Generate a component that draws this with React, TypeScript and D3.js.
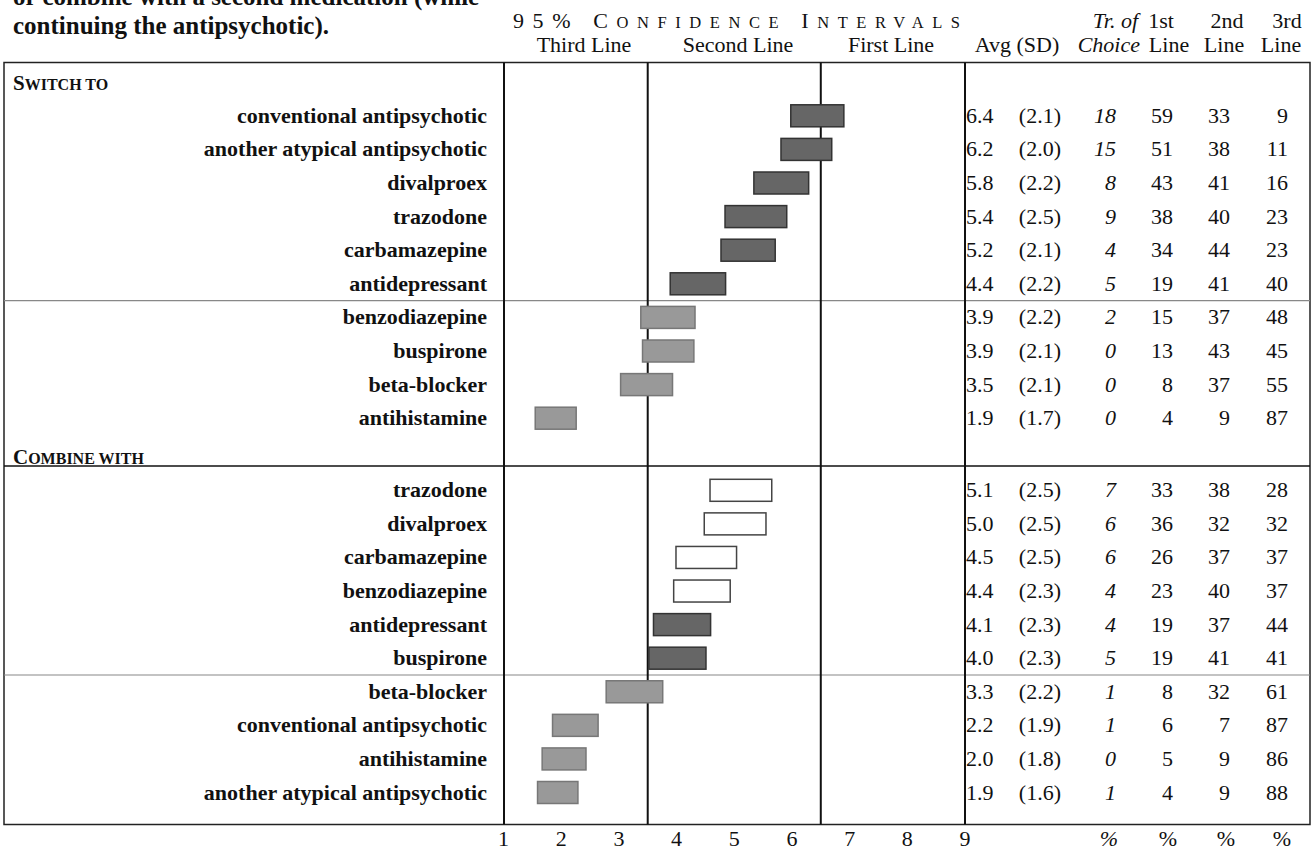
import React from 'react'
import {scaleLinear} from 'd3'

// switch-to rows
const switchLabels = ['conventional antipsychotic', 'another atypical antipsychotic', 'divalproex', 'trazodone', 'carbamazepine', 'antidepressant', 'benzodiazepine', 'buspirone', 'beta-blocker', 'antihistamine']
const switchLo = [5.98, 5.81, 5.34, 4.84, 4.77, 3.89, 3.38, 3.41, 3.03, 1.55]
const switchHi = [6.90, 6.69, 6.29, 5.91, 5.71, 4.85, 4.32, 4.30, 3.93, 2.26]
const switchAvg = ['6.4', '6.2', '5.8', '5.4', '5.2', '4.4', '3.9', '3.9', '3.5', '1.9']
const switchSd = ['2.1', '2.0', '2.2', '2.5', '2.1', '2.2', '2.2', '2.1', '2.1', '1.7']
const switchChoice = [18, 15, 8, 9, 4, 5, 2, 0, 0, 0]
const switchFirst = [59, 51, 43, 38, 34, 19, 15, 13, 8, 4]
const switchSecond = [33, 38, 41, 40, 44, 41, 37, 43, 37, 9]
const switchThird = [9, 11, 16, 23, 23, 40, 48, 45, 55, 87]
const switchRating = ['high2', 'high2', 'high2', 'high2', 'high2', 'high2', 'low2', 'low2', 'low2', 'low2']

// combine-with rows
const combineLabels = ['trazodone', 'divalproex', 'carbamazepine', 'benzodiazepine', 'antidepressant', 'buspirone', 'beta-blocker', 'conventional antipsychotic', 'antihistamine', 'another atypical antipsychotic']
const combineLo = [4.58, 4.48, 3.99, 3.95, 3.60, 3.52, 2.78, 1.85, 1.67, 1.59]
const combineHi = [5.65, 5.55, 5.04, 4.93, 4.59, 4.51, 3.76, 2.64, 2.43, 2.29]
const combineAvg = ['5.1', '5.0', '4.5', '4.4', '4.1', '4.0', '3.3', '2.2', '2.0', '1.9']
const combineSd = ['2.5', '2.5', '2.5', '2.3', '2.3', '2.3', '2.2', '1.9', '1.8', '1.6']
const combineChoice = [7, 6, 6, 4, 4, 5, 1, 1, 0, 1]
const combineFirst = [33, 36, 26, 23, 19, 19, 8, 6, 5, 4]
const combineSecond = [38, 32, 37, 40, 37, 41, 32, 7, 9, 9]
const combineThird = [28, 32, 37, 37, 44, 41, 61, 87, 86, 88]
const combineRating = ['pref', 'pref', 'pref', 'pref', 'high2', 'high2', 'low2', 'low2', 'low2', 'low2']

const ticks = [1, 2, 3, 4, 5, 6, 7, 8, 9]
const cutoffs = [3.5, 6.5]

const FONT = '"Liberation Serif", "Times New Roman", serif'

const barStyle: Record<string, {fill: string, stroke: string}> = {
    pref: {fill: '#ffffff', stroke: '#444444'},
    high2: {fill: '#666666', stroke: '#333333'},
    low2: {fill: '#999999', stroke: '#777777'},
}

export default function App() {
    const W = 1312, H = 850
    const left = 4, right = 1310, top = 62.5, bottom = 824.5
    const labelEdge = 504
    const fs = 22

    const x = scaleLinear().domain([1, 9]).range([503.5, 965])
    const ySwitch = scaleLinear().domain([0, 9]).range([115.8, 418.2])
    const yCombine = scaleLinear().domain([0, 9]).range([490.3, 792.5])
    const barH = 22

    const drawRows = (key: string, labels: string[], lo: number[], hi: number[], avg: string[], sd: string[],
                      choice: number[], first: number[], second: number[], third: number[], rating: string[], y: any) =>
        labels.map((lab, i) => {
            const cy = y(i)
            const base = cy + 7
            const st = barStyle[rating[i]]
            return (
                <g key={key + i}>
                    <text x={487} y={base} textAnchor="end" fontWeight="bold" fontSize={fs}>{lab}</text>
                    <rect x={x(lo[i])} y={cy - barH / 2} width={x(hi[i]) - x(lo[i])} height={barH}
                          fill={st.fill} stroke={st.stroke} strokeWidth={1.5}/>
                    <text x={966} y={base} fontSize={fs}>{avg[i]}</text>
                    <text x={1061} y={base} fontSize={fs} textAnchor="end">({sd[i]})</text>
                    <text x={1116} y={base} fontSize={fs} textAnchor="end" fontStyle="italic">{choice[i]}</text>
                    <text x={1173} y={base} fontSize={fs} textAnchor="end">{first[i]}</text>
                    <text x={1230} y={base} fontSize={fs} textAnchor="end">{second[i]}</text>
                    <text x={1288} y={base} fontSize={fs} textAnchor="end">{third[i]}</text>
                </g>
            )
        })

    // lines between rating groups
    const sepSwitch = (ySwitch(5) + ySwitch(6)) / 2
    const sepCombine = (yCombine(5) + yCombine(6)) / 2

    const h1 = 28, h2 = 52

    return (
        <svg width={W} height={H} style={{position: 'absolute', left: 0, top: 0, background: '#fff'}}
             fontFamily={FONT} fill="#111">
            {/* title, cut off at the top */}
            <text x={13} y={5} fontSize={25} fontWeight="bold">or combine with a second medication (while</text>
            <text x={13} y={34} fontSize={25} fontWeight="bold">continuing the antipsychotic).</text>

            {/* column headers */}
            <text x={513} y={h1} fontSize={fs} textLength={447} lengthAdjust="spacing">
                95% <tspan>C</tspan><tspan fontSize={16.5}>ONFIDENCE</tspan> <tspan>I</tspan><tspan fontSize={16.5}>NTERVALS</tspan>
            </text>
            <text x={584} y={h2} fontSize={fs} textAnchor="middle">Third Line</text>
            <text x={738} y={h2} fontSize={fs} textAnchor="middle">Second Line</text>
            <text x={891} y={h2} fontSize={fs} textAnchor="middle">First Line</text>
            <text x={1017} y={h2} fontSize={fs} textAnchor="middle">Avg (SD)</text>
            <text x={1138} y={h1} fontSize={fs} textAnchor="end" fontStyle="italic">Tr. of</text>
            <text x={1140} y={h2} fontSize={fs} textAnchor="end" fontStyle="italic">Choice</text>
            <text x={1161} y={h1} fontSize={fs} textAnchor="middle">1st</text>
            <text x={1169} y={h2} fontSize={fs} textAnchor="middle">Line</text>
            <text x={1227} y={h1} fontSize={fs} textAnchor="middle">2nd</text>
            <text x={1224} y={h2} fontSize={fs} textAnchor="middle">Line</text>
            <text x={1287} y={h1} fontSize={fs} textAnchor="middle">3rd</text>
            <text x={1281} y={h2} fontSize={fs} textAnchor="middle">Line</text>

            {/* frame and dividers */}
            <rect x={left} y={top} width={right - left} height={bottom - top} fill="none" stroke="#222" strokeWidth={1.5}/>
            <line x1={left} x2={right} y1={sepSwitch} y2={sepSwitch} stroke="#888" strokeWidth={1.2}/>
            <line x1={left} x2={right} y1={sepCombine} y2={sepCombine} stroke="#888" strokeWidth={1.2}/>
            <line x1={left} x2={right} y1={466} y2={466} stroke="#111" strokeWidth={1.6}/>
            <line x1={labelEdge} x2={labelEdge} y1={top} y2={bottom} stroke="#111" strokeWidth={2}/>
            <line x1={x(9)} x2={x(9)} y1={top} y2={bottom} stroke="#111" strokeWidth={2}/>
            {cutoffs.map(c => (
                <line key={c} x1={x(c)} x2={x(c)} y1={top} y2={bottom} stroke="#111" strokeWidth={2}/>
            ))}

            {/* section headers */}
            <text x={13} y={90} fontSize={21} fontWeight="bold">S<tspan fontSize={16}>WITCH TO</tspan></text>
            <text x={13} y={464} fontSize={21} fontWeight="bold">C<tspan fontSize={16}>OMBINE WITH</tspan></text>

            {drawRows('s', switchLabels, switchLo, switchHi, switchAvg, switchSd, switchChoice, switchFirst, switchSecond, switchThird, switchRating, ySwitch)}
            {drawRows('c', combineLabels, combineLo, combineHi, combineAvg, combineSd, combineChoice, combineFirst, combineSecond, combineThird, combineRating, yCombine)}

            {/* bottom axis labels */}
            {ticks.map(t => (
                <text key={t} x={x(t)} y={846} fontSize={fs} textAnchor="middle">{t}</text>
            ))}
            <text x={1109} y={846} fontSize={fs} textAnchor="middle" fontStyle="italic">%</text>
            <text x={1168} y={846} fontSize={fs} textAnchor="middle">%</text>
            <text x={1226} y={846} fontSize={fs} textAnchor="middle">%</text>
            <text x={1282} y={846} fontSize={fs} textAnchor="middle">%</text>
        </svg>
    )
}
